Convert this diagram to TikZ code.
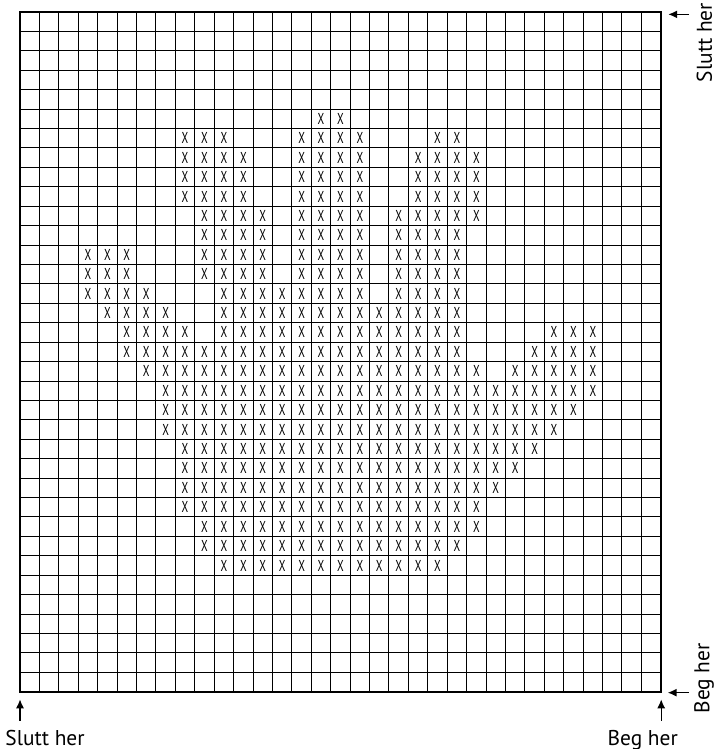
\documentclass[tikz,border=0pt]{standalone}
\usepackage{fontspec}
\setmainfont{PT Sans}
\usetikzlibrary{arrows.meta}

\begin{document}
\begin{tikzpicture}[
  x=9.71pt, y=9.71pt,
  fine/.style={line width=0.5pt},
  frame/.style={line width=1.1pt},
  stitch/.style={inner sep=0pt, font=\fontsize{7.9}{8}\selectfont},
  arrow/.style={-{Latex[length=4.5pt,width=4pt]}, line width=0.7pt},
  note/.style={inner sep=0pt, font=\fontsize{10.7}{12}\selectfont},
]
\useasboundingbox (-1.03,-2.95) rectangle (35.89,35.62);

\draw[fine, step=1] (0,0) grid (33,35);
\draw[frame] (0,0) rectangle (33,35);

% rows counted from the top, runs of marked columns
\foreach \r/\runs in {
  6/{16/17},
  7/{9/11,15/18,22/23},
  8/{9/12,15/18,21/24},
  9/{9/12,15/18,21/24},
  10/{9/12,15/18,21/24},
  11/{10/13,15/18,20/24},
  12/{10/13,15/18,20/23},
  13/{4/6,10/13,15/18,20/23},
  14/{4/6,10/13,15/18,20/23},
  15/{4/7,11/18,20/23},
  16/{5/8,11/23},
  17/{6/9,11/23,28/30},
  18/{6/23,27/30},
  19/{7/24,26/30},
  20/{8/30},
  21/{8/29},
  22/{8/28},
  23/{9/27},
  24/{9/26},
  25/{9/25},
  26/{9/24},
  27/{10/24},
  28/{10/23},
  29/{11/22}} {
  \foreach \a/\b in \runs {
    \foreach \c in {\a,...,\b}
      \node[stitch] (x-\r-\c) at (\c-0.5,35.5-\r) {\scalebox{0.68}[1]{X}};
  }
}

% arrows
\coordinate (top-tail) at (34.46,34.88);
\coordinate (top-tip) at (33.38,34.88);
\coordinate (side-tail) at (34.45,-0.05);
\coordinate (side-tip) at (33.35,-0.05);
\coordinate (foot-r-tail) at (33.02,-1.49);
\coordinate (foot-r-tip) at (33.02,-0.39);
\coordinate (foot-l-tail) at (0,-1.49);
\coordinate (foot-l-tip) at (0,-0.39);

\draw[arrow] (top-tail) -- (top-tip);
\draw[arrow] (side-tail) -- (side-tip);
\draw[arrow] (foot-r-tail) -- (foot-r-tip);
\draw[arrow] (foot-l-tail) -- (foot-l-tip);

\node[note, rotate=90] (end-side) at (35.24,33.43) {Slutt her};
\node[note, rotate=90] (beg-side) at (35.22,0.69) {Beg her};
\node[note, anchor=base] (end-foot) at (1.29,-2.745) {Slutt her};
\node[note, anchor=base] (beg-foot) at (32.07,-2.745) {Beg her};
\end{tikzpicture}
\end{document}
